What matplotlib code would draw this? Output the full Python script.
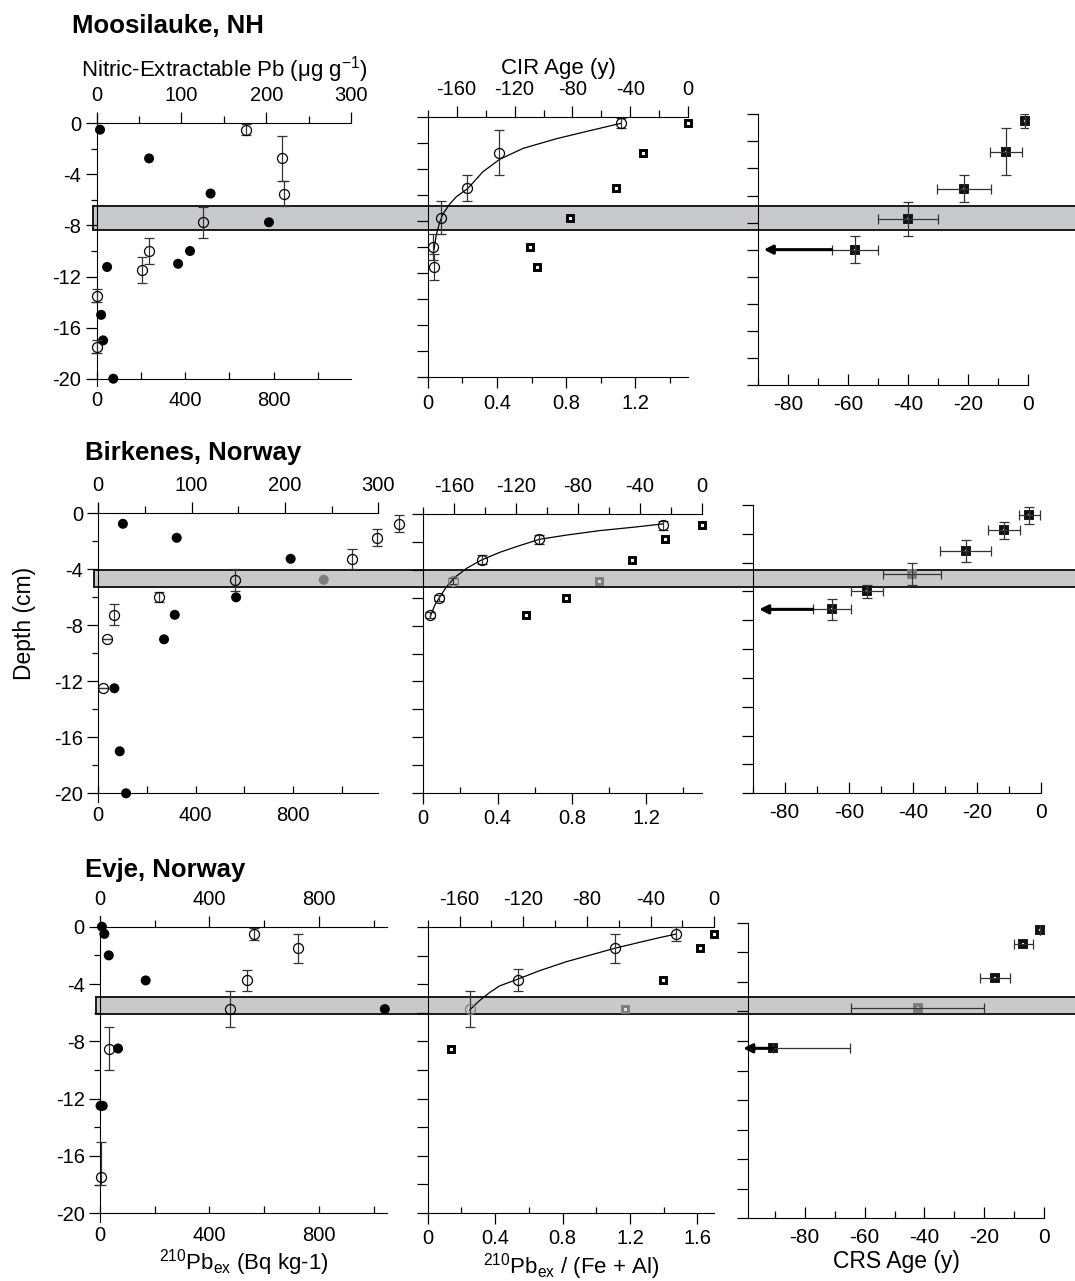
import matplotlib.pyplot as plt
import matplotlib.transforms as mtransforms
from matplotlib.patches import Rectangle
from matplotlib.ticker import MultipleLocator

plt.rcParams['font.family'] = ['Liberation Sans', 'DejaVu Sans']
plt.rcParams['mathtext.fontset'] = 'custom'
plt.rcParams['mathtext.rm'] = 'Liberation Sans'
plt.rcParams['mathtext.it'] = 'Liberation Sans:italic'
plt.rcParams['mathtext.default'] = 'regular'
plt.rcParams['axes.unicode_minus'] = False

# ---------------- datos ----------------
# Moosilauke, NH
moos_pb_act = [15, 237, 515, 779, 422, 368, 47, 20, 29, 75]
moos_pb_depth = [-0.5, -2.75, -5.5, -7.75, -10, -11, -11.25, -15, -17, -20]
moos_nit_pb = [176, 219, 221, 125, 62, 54, 0, 0]
moos_nit_depth = [-0.5, -2.75, -5.5, -7.75, -10, -11.5, -13.5, -17.5]
moos_nit_err = [0.45, 1.75, 1.0, 1.2, 1.0, 1.0, 0.5, 0.5]
moos_ratio = [1.504, 1.244, 1.085, 0.823, 0.588, 0.631]
moos_ratio_depth = [-0.5, -2.75, -5.5, -7.75, -10, -11.5]
moos_cir_age = [-46.7, -130.6, -152.8, -170.6, -176.6, -175.7]
moos_cir_err = [0.4, 1.75, 1.0, 1.25, 1.0, 1.0]
moos_fit_age = [-176.1, -174.1, -171.8, -169.5, -164.8, -160.2, -152.4, -141.8, -130.3,
                -114.1, -91.1, -68.0, -46.6]
moos_fit_depth = [-10.49, -9.08, -8.13, -7.47, -6.70, -6.14, -5.52, -4.22, -3.27,
                  -2.43, -1.69, -1.07, -0.51]
moos_crs_age = [-1.1, -7.3, -21.5, -40, -57.7]
moos_crs_depth = [-0.5, -2.75, -5.5, -7.75, -10]
moos_crs_xerr = [0, 5.3, 9, 10, 7.7]
moos_crs_yerr = [0.5, 1.75, 1.0, 1.25, 1.0]
moos_arrow_to = -88
moos_band = (-6.5, -8.35)

# Birkenes, Norway
birk_pb_act = [101, 322, 790, 926, 566, 314, 270, 66, 88, 114]
birk_pb_depth = [-0.75, -1.75, -3.25, -4.75, -6.0, -7.25, -9.0, -12.5, -17.0, -20.0]
birk_pb_gray = [3]
birk_nit_pb = [322.5, 299, 272, 146.4, 64.6, 16.8, 9.6, 5.4]
birk_nit_depth = [-0.75, -1.75, -3.25, -4.75, -6.0, -7.25, -9.0, -12.5]
birk_nit_err = [0.6, 0.6, 0.7, 0.8, 0.35, 0.75, 0, 0]
birk_ratio = [1.5, 1.302, 1.123, 0.948, 0.767, 0.551]
birk_ratio_depth = [-0.8, -1.8, -3.25, -4.8, -6.0, -7.25]
birk_cir_age = [-25, -105, -142.3, -160.6, -169.9, -175.5]
birk_cir_err = [0.3, 0.3, 0.3, 0.2, 0.2, 0.2]
birk_fit_age = [-175.5, -172.5, -169.9, -165.0, -159.6, -152.0, -142.3, -130.5, -119.7,
                -105.0, -87.3, -65.8, -44.2, -25.0]
birk_fit_depth = [-7.35, -6.51, -6.04, -5.20, -4.53, -3.88, -3.28, -2.73, -2.32,
                  -1.80, -1.49, -1.17, -0.93, -0.69]
birk_gray = [3]
birk_crs_age = [-3.6, -11.7, -23.5, -40.2, -54.4, -65.2]
birk_crs_depth = [-0.72, -1.76, -3.21, -4.79, -6.0, -7.24]
birk_crs_xerr = [3.4, 5, 8, 9, 5, 6]
birk_crs_yerr = [0.6, 0.6, 0.75, 0.75, 0.45, 0.75]
birk_arrow_to = -88
birk_band = (-4.05, -5.24)

# Evje, Norway
evje_pb_act = [7, 16, 32, 167, 1041, 66, 2, 10]
evje_pb_depth = [0, -0.5, -2.0, -3.75, -5.75, -8.5, -12.5, -12.5]
evje_nit_pb = [561, 722, 536, 475, 32, 4]
evje_nit_depth = [-0.5, -1.5, -3.75, -5.75, -8.5, -17.5]
evje_nit_err = [[0.4, 1.0, 0.75, 1.25, 1.5, 0.5],
                [0.4, 1.0, 0.75, 1.25, 1.5, 2.5]]
evje_ratio = [1.697, 1.614, 1.395, 1.171, 0.136]
evje_ratio_depth = [-0.47, -1.45, -3.7, -5.75, -8.5]
evje_cir_age = [-23.9, -62.5, -123.6, -153.6]
evje_cir_depth = [-0.45, -1.47, -3.7, -5.73]
evje_cir_err = [0.5, 1.0, 0.76, 1.25]
evje_fit_age = [-153.6, -147.5, -141.2, -134.9, -123.6, -109.7, -92.9, -76.1, -62.5,
                -46.8, -34.2, -23.9]
evje_fit_depth = [-5.79, -5.14, -4.58, -4.11, -3.64, -3.04, -2.41, -1.89, -1.47,
                  -1.05, -0.72, -0.47]
evje_gray = [3]
evje_crs_age = [-1.6, -7.0, -16.5, -42, -90.5]
evje_crs_depth = [-0.5, -1.47, -3.72, -5.77, -8.5]
evje_crs_xerr = [[0, 3.2, 5, 22.4, 0], [0, 3.2, 5, 21.8, 25.6]]
evje_arrow_to = -100.5
evje_band = (-4.88, -6.09)

# ---------------- figura ----------------
W, H = 1075, 1281
fig = plt.figure(figsize=(W / 100, H / 100), dpi=100)
fig.patch.set_facecolor('white')

TK = 14.5
ERR = dict(ecolor='#333333', elinewidth=0.9, capsize=3.4, capthick=0.9)
GRAY = '#7d7d7d'


def ejes(l, r, t, b):
    ax = fig.add_axes([l / W, 1 - b / H, (r - l) / W, (b - t) / H])
    ax.patch.set_visible(False)
    ax.set_ylim(-20, 0)
    ax.spines['right'].set_visible(False)
    ax.spines['top'].set_visible(False)
    return ax


def gemelo(ax, lim, major, minor):
    tw = ax.twiny()
    tw.set_xlim(*lim)
    for s in ['left', 'right', 'bottom']:
        tw.spines[s].set_visible(False)
    tw.xaxis.set_major_locator(MultipleLocator(major))
    tw.xaxis.set_minor_locator(MultipleLocator(minor))
    tw.tick_params(axis='x', which='major', direction='out', length=8, width=0.9,
                   pad=5, labelsize=TK)
    tw.tick_params(axis='x', which='minor', direction='out', length=5, width=0.9)
    return tw


def panel_izq(caja, xmax, top_lim, top_major, top_minor,
              act, act_d, nit, nit_d, nit_err, gris=()):
    ax = ejes(*caja)
    ax.set_xlim(0, xmax)
    ax.spines['left'].set_bounds(-20.6, 0.75)
    ax.yaxis.set_major_locator(MultipleLocator(4))
    ax.yaxis.set_minor_locator(MultipleLocator(2))
    ax.xaxis.set_major_locator(MultipleLocator(400))
    ax.xaxis.set_minor_locator(MultipleLocator(200))
    ax.tick_params(axis='y', which='major', direction='out', length=8, width=0.9,
                   pad=3, labelsize=TK)
    ax.tick_params(axis='y', which='minor', direction='out', length=4, width=0.9)
    ax.tick_params(axis='x', which='both', direction='in', length=5, width=0.9,
                   pad=9, labelsize=TK)
    cols = [GRAY if i in gris else 'black' for i in range(len(act))]
    ax.scatter(act, act_d, s=52, c=cols, linewidths=0, zorder=3, clip_on=False)
    tw = gemelo(ax, top_lim, top_major, top_minor)
    tw.errorbar(nit, nit_d, yerr=nit_err, fmt='o', ms=7.2, mfc='none', mec='black',
                mew=0.9, zorder=3, clip_on=False, **ERR)
    return ax, tw


def panel_medio(caja, xmax, ratio, ratio_d, age, age_d, age_err,
                fit_age, fit_d, gris=(), minor_dir='in'):
    ax = ejes(*caja)
    ax.set_xlim(0, xmax)
    ax.yaxis.set_major_locator(MultipleLocator(2))
    ax.xaxis.set_major_locator(MultipleLocator(0.4))
    ax.xaxis.set_minor_locator(MultipleLocator(0.2))
    ax.tick_params(axis='y', direction='out', length=8, width=0.9, labelleft=False)
    ax.tick_params(axis='x', which='major', direction='out', length=8, width=0.9,
                   pad=4, labelsize=TK)
    ax.tick_params(axis='x', which='minor', direction=minor_dir, length=4, width=0.9)
    ax.xaxis.set_major_formatter(plt.FuncFormatter(lambda v, p: f'{v:g}'))
    for i, (x, y) in enumerate(zip(ratio, ratio_d)):
        g = i in gris
        ax.plot(x, y, 's', ms=4.3, mew=2.1, mfc='#dddddd' if g else 'white',
                mec=GRAY if g else 'black', zorder=3, clip_on=False)
    tw = gemelo(ax, (-180, 0), 40, 20)
    tw.plot(fit_age, fit_d, '-', color='black', lw=0.9, zorder=2)
    for i, (x, y, e) in enumerate(zip(age, age_d, age_err)):
        c = GRAY if i in gris else 'black'
        tw.errorbar([x], [y], yerr=[e], fmt='o', ms=7.2, mfc='none', mec=c, mew=0.9,
                    zorder=3, clip_on=False, **ERR)
    return ax, tw


def panel_der(caja, xmin, age, dep, xerr, yerr, flecha_idx, flecha_to, gris=()):
    ax = ejes(*caja)
    ax.set_xlim(xmin, 0)
    ax.yaxis.set_major_locator(MultipleLocator(2))
    ax.xaxis.set_major_locator(MultipleLocator(20))
    ax.xaxis.set_minor_locator(MultipleLocator(10))
    ax.tick_params(axis='y', direction='out', length=8, width=0.9, labelleft=False)
    ax.tick_params(axis='x', which='major', direction='in', length=8, width=0.9,
                   pad=7, labelsize=15)
    ax.tick_params(axis='x', which='minor', direction='in', length=5, width=0.9)
    for i, (x, y) in enumerate(zip(age, dep)):
        g = i in gris
        ax.plot(x, y, 's', ms=5.0, mew=2.8, mfc='#dddddd' if g else 'white',
                mec=GRAY if g else '#111111', zorder=2.5, clip_on=False)
    ax.errorbar(age, dep, xerr=xerr, yerr=yerr, fmt='none', zorder=3, **ERR)
    # flecha: edad mayor que la indicada
    xs = age[flecha_idx]
    if isinstance(xerr[0], list):
        xs = xs - xerr[0][flecha_idx]
    else:
        xs = xs - xerr[flecha_idx]
    ax.annotate('', xy=(flecha_to, dep[flecha_idx]), xytext=(xs, dep[flecha_idx]),
                annotation_clip=False,
                arrowprops=dict(arrowstyle='-|>', lw=2.2, color='black',
                                mutation_scale=13, shrinkA=0, shrinkB=0))
    return ax


def franja(ax_ref, left_px, banda):
    trans = mtransforms.blended_transform_factory(fig.transFigure, ax_ref.transData)
    x0 = (left_px - 4) / W
    r = Rectangle((x0, banda[1]), 1.05 - x0, banda[0] - banda[1], transform=trans,
                  fc='#c8c9cb', ec='#1a1a1a', lw=1.4, zorder=-1)
    fig.add_artist(r)


# ----- fila 1: Moosilauke -----
a1, t1 = panel_izq((96.7, 351, 123.3, 378.7), 1150, (0, 300), 100, 50,
                   moos_pb_act, moos_pb_depth, moos_nit_pb, moos_nit_depth, moos_nit_err)
t1.set_xlabel('Nitric-Extractable Pb (μg g$^{-1}$)', fontsize=16, labelpad=7)
b1, tb1 = panel_medio((427.7, 688.3, 116.7, 377.3), 1.505, moos_ratio, moos_ratio_depth,
                      moos_cir_age, moos_ratio_depth, moos_cir_err,
                      moos_fit_age, moos_fit_depth, minor_dir='out')
tb1.set_xlabel('CIR Age (y)', fontsize=16, labelpad=4)
c1 = panel_der((757.7, 1028.3, 114.3, 385), -90, moos_crs_age, moos_crs_depth,
               moos_crs_xerr, moos_crs_yerr, 4, moos_arrow_to)
franja(a1, 96.7, moos_band)

# ----- fila 2: Birkenes -----
a2, t2 = panel_izq((98.3, 378.3, 513.3, 793.3), 1150, (0, 300), 100, 50,
                   birk_pb_act, birk_pb_depth, birk_nit_pb, birk_nit_depth, birk_nit_err,
                   gris=birk_pb_gray)
b2, tb2 = panel_medio((423.3, 701.7, 514.3, 792.7), 1.5, birk_ratio, birk_ratio_depth,
                      birk_cir_age, birk_ratio_depth, birk_cir_err,
                      birk_fit_age, birk_fit_depth, gris=birk_gray)
c2 = panel_der((752.7, 1041, 505, 793.3), -90, birk_crs_age, birk_crs_depth,
               birk_crs_xerr, birk_crs_yerr, 5, birk_arrow_to, gris=birk_gray)
franja(a2, 98.3, birk_band)

# ----- fila 3: Evje -----
a3, t3 = panel_izq((100, 387.3, 926.7, 1213.3), 1050, (0, 1050), 400, 200,
                   evje_pb_act, evje_pb_depth, evje_nit_pb, evje_nit_depth, evje_nit_err)
a3.set_xlabel('$^{210}$Pb$_{ex}$ (Bq kg-1)', fontsize=16, labelpad=2)
b3, tb3 = panel_medio((427.7, 714.3, 927.3, 1212.7), 1.7, evje_ratio, evje_ratio_depth,
                      evje_cir_age, evje_cir_depth, evje_cir_err,
                      evje_fit_age, evje_fit_depth, gris=evje_gray)
b3.set_xlabel('$^{210}$Pb$_{ex}$ / (Fe + Al)', fontsize=16, labelpad=2)
c3 = panel_der((747.7, 1044.3, 922.7, 1218.3), -99, evje_crs_age, evje_crs_depth,
               evje_crs_xerr, None, 4, evje_arrow_to, gris=evje_gray)
c3.set_xlabel('CRS Age (y)', fontsize=16.5, labelpad=2)
franja(a3, 100, evje_band)

# titulos de cada sitio
for txt, x, y in [('Moosilauke, NH', 72, 33), ('Birkenes, Norway', 85, 460),
                  ('Evje, Norway', 85, 877)]:
    fig.text(x / W, 1 - y / H, txt, fontsize=18.5, fontweight='bold', va='baseline')

fig.text(24 / W, 1 - 623 / H, 'Depth (cm)', fontsize=16.5, rotation=90,
         ha='center', va='center')

fig.savefig('out.png', dpi=100)
